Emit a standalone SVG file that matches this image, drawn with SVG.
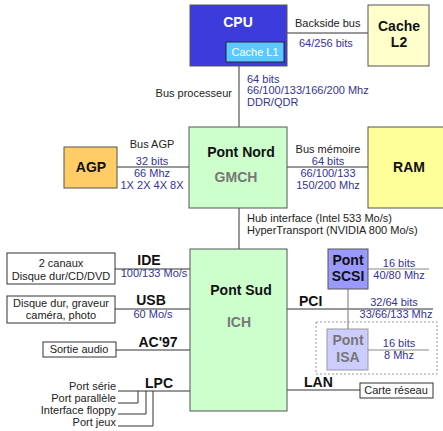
<svg xmlns="http://www.w3.org/2000/svg" width="443" height="431" viewBox="0 0 443 431">
<style>
text{font-family:"Liberation Sans",Arial,sans-serif;font-size:11px;fill:#222}
.b{font-weight:bold;font-size:14px;fill:#111}
.blue{fill:#333399}
.gray{fill:#777;font-weight:bold;font-size:14px}
.box{stroke:#555;stroke-width:1}
.wb{fill:#fff;stroke:#333;stroke-width:1}
.ln{stroke:#333;stroke-width:1;fill:none}
.gl{stroke:#888;stroke-width:1.2;fill:none}
.m{text-anchor:middle}
.e{text-anchor:end}
</style>
<g id="connectors">
<line class="ln" x1="239" y1="66" x2="239" y2="127"/>
<line class="ln" x1="287" y1="33" x2="368" y2="33"/>
<line class="ln" x1="117" y1="167" x2="189" y2="167"/>
<line class="ln" x1="287" y1="167" x2="368" y2="167"/>
<line class="ln" x1="239" y1="208" x2="239" y2="249"/>
<line class="ln" x1="115" y1="269" x2="190" y2="269"/>
<line class="ln" x1="115" y1="309" x2="190" y2="309"/>
<line class="ln" x1="116" y1="350" x2="190" y2="350"/>
<line class="ln" x1="118" y1="391" x2="190" y2="391"/>
<polyline class="ln" points="118,403 138,403 138,391"/>
<polyline class="ln" points="118,414 146,414 146,391"/>
<polyline class="ln" points="118,426 153,426 153,391"/>
<line class="ln" x1="287" y1="309" x2="433" y2="309"/>
<line class="ln" x1="287" y1="390" x2="360" y2="390"/>
<line class="gl" x1="368" y1="269" x2="429" y2="269"/>
<line class="gl" x1="348" y1="289" x2="348" y2="329"/>
<line class="gl" x1="368" y1="350" x2="429" y2="350"/>
<rect x="316" y="322" width="121" height="52" fill="none" stroke="#999" stroke-dasharray="2,2"/>
</g>
<g id="labels">
<text x="295" y="27">Backside bus</text>
<text x="299" y="47" class="blue">64/256 bits</text>
<text x="232" y="97" class="e">Bus processeur</text>
<text x="247" y="83" class="blue">64 bits</text>
<text x="247" y="94" class="blue">66/100/133/166/200 Mhz</text>
<text x="247" y="106" class="blue">DDR/QDR</text>
<text x="152" y="148" class="m">Bus AGP</text>
<text x="152" y="165" class="m blue">32 bits</text>
<text x="152" y="177" class="m blue">66 Mhz</text>
<text x="152" y="189" class="m blue">1X 2X 4X 8X</text>
<text x="328" y="153" class="m">Bus mémoire</text>
<text x="328" y="165" class="m blue">64 bits</text>
<text x="328" y="177" class="m blue">66/100/133</text>
<text x="328" y="189" class="m blue">150/200 Mhz</text>
<text x="247" y="222">Hub interface (Intel 533 Mo/s)</text>
<text x="247" y="234">HyperTransport (NVIDIA 800 Mo/s)</text>
<text x="149" y="265" class="b m">IDE</text>
<text x="154" y="277" class="m blue">100/133 Mo/s</text>
<text x="151" y="305" class="b m">USB</text>
<text x="153" y="318" class="m blue">60 Mo/s</text>
<text x="158" y="347" class="b m">AC'97</text>
<text x="159" y="388" class="b m">LPC</text>
<text x="116" y="390" class="e">Port série</text>
<text x="116" y="402" class="e">Port parallèle</text>
<text x="116" y="414" class="e">Interface floppy</text>
<text x="116" y="426" class="e">Port jeux</text>
<text x="299" y="306" class="b">PCI</text>
<text x="394" y="306" class="m blue">32/64 bits</text>
<text x="396" y="318" class="m blue">33/66/133 Mhz</text>
<text x="399" y="267" class="m blue">16 bits</text>
<text x="399" y="279" class="m blue">40/80 Mhz</text>
<text x="399" y="347" class="m blue">16 bits</text>
<text x="399" y="359" class="m blue">8 Mhz</text>
<text x="304" y="387" class="b">LAN</text>
</g>
<g id="cpu">
<rect x="190" y="5" width="97" height="61" fill="#3c3cdc" class="box" stroke="#333"/>
<text x="238" y="27" class="b m" style="fill:#fff">CPU</text>
<rect x="226" y="42" width="58" height="20" fill="#5cc8ff" stroke="#223"/>
<text x="255" y="56" class="m" style="fill:#fff">Cache L1</text>
</g>
<g id="cache-l2">
<rect x="368" y="5" width="61" height="61" fill="#ffffcc" class="box"/>
<text x="399" y="31" class="b m">Cache</text>
<text x="399" y="47" class="b m">L2</text>
</g>
<g id="pont-nord">
<rect x="189" y="127" width="98" height="81" fill="#ccffcc" class="box"/>
<text x="241" y="157" class="b m">Pont Nord</text>
<text x="236" y="182" class="gray m">GMCH</text>
</g>
<g id="agp">
<rect x="64" y="147" width="53" height="41" fill="#ffcc66" class="box"/>
<text x="91" y="172" class="b m">AGP</text>
</g>
<g id="ram">
<rect x="368" y="127" width="80" height="81" fill="#ffff99" class="box"/>
<text x="409" y="172" class="b m">RAM</text>
</g>
<g id="pont-sud">
<rect x="190" y="249" width="97" height="162" fill="#ccffcc" class="box"/>
<text x="241" y="295" class="b m">Pont Sud</text>
<text x="239" y="327" class="gray m">ICH</text>
</g>
<g id="ide-dev">
<rect x="7" y="253" width="108" height="31" class="wb"/>
<text x="61" y="267" class="m">2 canaux</text>
<text x="61" y="280" class="m">Disque dur/CD/DVD</text>
</g>
<g id="usb-dev">
<rect x="7" y="296" width="108" height="27" class="wb"/>
<text x="61" y="307" class="m">Disque dur, graveur</text>
<text x="61" y="319" class="m">caméra, photo</text>
</g>
<g id="audio">
<rect x="43" y="342" width="73" height="15" class="wb"/>
<text x="79" y="353" class="m">Sortie audio</text>
</g>
<g id="pont-scsi">
<rect x="328" y="249" width="40" height="40" fill="#9999ff" class="box"/>
<text x="348" y="265" class="b m">Pont</text>
<text x="348" y="281" class="b m">SCSI</text>
</g>
<g id="pont-isa">
<rect x="327" y="329" width="41" height="41" fill="#ccccff" stroke="#999"/>
<text x="348" y="345" class="gray m">Pont</text>
<text x="348" y="362" class="gray m">ISA</text>
</g>
<g id="carte-reseau">
<rect x="360" y="383" width="73" height="15" class="wb"/>
<text x="396" y="394" class="m">Carte réseau</text>
</g>
</svg>
